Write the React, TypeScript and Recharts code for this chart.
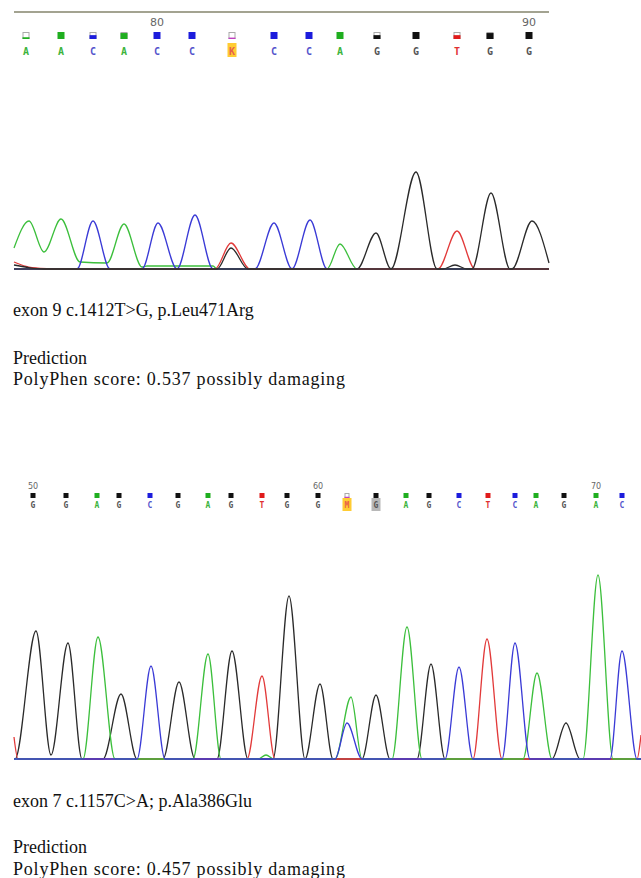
import React from 'react';
import { LineChart, Line, XAxis, YAxis, ReferenceLine } from 'recharts';

// ---- exon 9 read (positions 76-90) ----
const p1FirstPos = 76;
const p1Bases = ['A', 'A', 'C', 'A', 'C', 'C', 'K', 'C', 'C', 'A', 'G', 'G', 'T', 'G', 'G'];
const p1BaseScans = [12, 47, 79, 110, 143, 178, 218, 260, 295, 326, 363, 402, 443, 476, 515];
const p1Quality = [0.25, 1, 0.55, 0.85, 1, 1, 0.2, 1, 1, 1, 0.55, 1, 0.55, 0.85, 1];

// [scan, signal]
const p1A = [[0, 210], [15, 480], [30, 170], [47, 500], [66, 70], [93, 60], [110, 450], [128, 20], [133, 30], [199, 30], [203, 0], [313, 0], [326, 250], [343, 0], [535, 0]];
const p1C = [[0, 0], [63, 0], [79, 480], [96, 0], [128, 0], [144, 460], [163, 0], [181, 540], [199, 0], [241, 0], [260, 460], [278, 0], [296, 490], [313, 0], [535, 0]];
const p1G = [[0, 40], [14, 15], [30, 0], [203, 0], [217, 210], [234, 0], [343, 0], [362, 360], [377, 0], [402, 970], [423, 0], [429, 0], [441, 40], [453, 0], [458, 0], [477, 760], [496, 0], [498, 0], [518, 480], [535, 60]];
const p1T = [[0, 70], [12, 25], [26, 5], [40, 0], [201, 0], [217, 260], [236, 0], [424, 0], [443, 380], [461, 0], [535, 0]];

// ---- exon 7 read (positions 50-71) ----
const p2FirstPos = 50;
const p2Bases = ['G', 'G', 'A', 'G', 'C', 'G', 'A', 'G', 'T', 'G', 'G', 'M', 'G', 'A', 'G', 'C', 'T', 'C', 'A', 'G', 'A', 'C'];
const p2BaseScans = [19, 52, 83, 105, 136, 164, 194, 217, 248, 273, 304, 333, 362, 392, 415, 445, 474, 501, 522, 550, 582, 608];
const p2Quality = [1, 1, 1, 1, 1, 1, 1, 1, 1, 1, 1, 0.25, 1, 1, 1, 1, 1, 1, 1, 1, 1, 1];

const p2A = [[0, 0], [69, 0], [84, 1220], [101, 0], [179, 0], [194, 1050], [207, 0], [244, 0], [252, 40], [260, 0], [321, 0], [337, 620], [348, 0], [378, 0], [393, 1320], [408, 0], [509, 0], [523, 860], [538, 0], [569, 0], [584, 1840], [599, 0], [627, 0]];
const p2C = [[0, 0], [123, 0], [137, 930], [151, 0], [321, 0], [333, 360], [348, 0], [431, 0], [445, 920], [459, 0], [488, 0], [501, 1160], [516, 0], [596, 0], [608, 1080], [623, 0], [627, 0]];
const p2G = [[0, 0], [1, 0], [22, 1280], [37, 40], [54, 1160], [68, 0], [89, 0], [107, 650], [123, 0], [149, 0], [165, 770], [181, 0], [203, 0], [218, 1080], [234, 0], [259, 0], [275, 1630], [291, 0], [306, 750], [319, 0], [348, 0], [362, 640], [376, 0], [403, 0], [417, 950], [431, 0], [538, 0], [552, 360], [566, 0], [627, 0]];
const p2T = [[0, 220], [4, 0], [233, 0], [248, 830], [261, 0], [459, 0], [473, 1200], [488, 0], [623, 0], [627, 240]];

const SQUARE_COLORS: Record<string, string> = { A: '#1fae1f', C: '#1c1cdc', G: '#111111', T: '#e01b1b' };
const LETTER_COLORS: Record<string, string> = { A: '#3cb43c', C: '#5555cc', G: '#555555', T: '#e03030' };
const TRACE_COLORS = { A: '#3cbf3c', C: '#3a3ad6', G: '#2a2a2a', T: '#e23a3a' };

const toPoints = (arr: number[][]) => arr.map(([s, v]) => ({ s, v }));

const BaseTick = (props: any) => {
    const { x, y, index, bases, quality, firstPos, look } = props;
    const b = bases[index];
    const ambiguous = !SQUARE_COLORS[b];
    const sq = ambiguous ? '#c040c0' : SQUARE_COLORS[b];
    const q = quality[index];
    const sx = x - look.sq / 2;
    const sy = y + look.sqY;
    const pos = firstPos + index;
    return (
        <g>
            {pos % 10 === 0 && (
                <text x={x} y={y + look.numY} textAnchor="middle" fontSize={look.numSize} fill="#666" fontFamily="DejaVu Sans">{pos}</text>
            )}
            {q < 1 && <rect x={sx + 0.5} y={sy + 0.5} width={look.sq - 1} height={look.sq - 1} fill="#fff" stroke="#aaa" strokeWidth={1} />}
            <rect x={sx} y={sy + look.sq * (1 - q)} width={look.sq} height={look.sq * q} fill={sq} />
            {ambiguous && <rect x={x - look.boxW / 2} y={y + look.boxY} width={look.boxW} height={look.boxH} fill="#ffcc33" />}
            {b === 'G' && index > 0 && bases[index - 1] === 'M' && (
                <rect x={x - look.boxW / 2} y={y + look.boxY} width={look.boxW} height={look.boxH} fill="#b8b8b8" />
            )}
            <text x={x} y={y + look.letY} textAnchor="middle" fontSize={look.letSize} fontWeight="bold" fontFamily="DejaVu Sans Mono"
                fill={ambiguous ? '#e8604a' : LETTER_COLORS[b]}>{b}</text>
        </g>
    );
};

const TracePanel = ({ top, height, marginTop, axisHeight, marginRight, maxScan, maxSignal, bases, scans, quality, firstPos, traces, look, baseline }: any) => (
    <div style={{ position: 'absolute', left: 0, top }}>
        <LineChart width={641} height={height} margin={{ top: marginTop, right: marginRight, bottom: 3, left: 14 }}>
            <XAxis
                type="number"
                dataKey="s"
                orientation="top"
                domain={[0, maxScan]}
                ticks={scans}
                interval={0}
                height={axisHeight}
                axisLine={false}
                tickLine={false}
                tickSize={0}
                tickMargin={0}
                tick={(p: any) => <BaseTick {...p} bases={bases} quality={quality} firstPos={firstPos} look={look} />}
            />
            <YAxis type="number" domain={[0, maxSignal]} hide />
            {traces.map((t: any) => (
                <Line key={t.name} data={toPoints(t.data)} dataKey="v" type="monotone" stroke={t.color} strokeWidth={1.3}
                    dot={false} activeDot={false} isAnimationActive={false} />
            ))}
            {baseline && <ReferenceLine y={0} stroke="#333" strokeWidth={1.4} />}
        </LineChart>
    </div>
);

const textStyle: React.CSSProperties = {
    position: 'absolute', left: 13, fontFamily: '"Liberation Serif", serif', fontSize: 18, lineHeight: '18px', color: '#111', whiteSpace: 'nowrap'
};
const scoreStyle: React.CSSProperties = { ...textStyle, letterSpacing: '0.8px' };

export default function App() {
    const look1 = { sq: 7, sqY: -26, numY: -32, numSize: 11, letY: -3, letSize: 10, boxW: 9, boxY: -15, boxH: 14 };
    const look2 = { sq: 5, sqY: -19, numY: -23, numSize: 8, letY: -4, letSize: 8, boxW: 9, boxY: -14, boxH: 13 };
    return (
        <div style={{ position: 'relative', width: 641, height: 878, background: '#fff', overflow: 'hidden' }}>
            <style>{'body{margin:0}'}</style>
            <div style={{ position: 'absolute', left: 14, top: 11, width: 535, height: 2, background: '#a3a391' }} />
            <TracePanel
                top={0} height={272} marginTop={14} axisHeight={44} marginRight={92} maxScan={535} maxSignal={2110}
                bases={p1Bases} scans={p1BaseScans} quality={p1Quality} firstPos={p1FirstPos} look={look1} baseline
                traces={[
                    { name: 'A', data: p1A, color: TRACE_COLORS.A },
                    { name: 'C', data: p1C, color: TRACE_COLORS.C },
                    { name: 'T', data: p1T, color: TRACE_COLORS.T },
                    { name: 'G', data: p1G, color: TRACE_COLORS.G },
                ]}
            />
            <div style={{ ...textStyle, top: 301 }}>exon 9 c.1412T&gt;G, p.Leu471Arg</div>
            <div style={{ ...textStyle, top: 349 }}>Prediction</div>
            <div style={{ ...scoreStyle, top: 370 }}>PolyPhen score: 0.537 possibly damaging</div>

            <TracePanel
                top={470} height={292} marginTop={0} axisHeight={42} marginRight={0} maxScan={627} maxSignal={2470}
                bases={p2Bases} scans={p2BaseScans} quality={p2Quality} firstPos={p2FirstPos} look={look2}
                traces={[
                    { name: 'G', data: p2G, color: TRACE_COLORS.G },
                    { name: 'T', data: p2T, color: TRACE_COLORS.T },
                    { name: 'A', data: p2A, color: TRACE_COLORS.A },
                    { name: 'C', data: p2C, color: TRACE_COLORS.C },
                ]}
            />
            <div style={{ ...textStyle, top: 792 }}>exon 7 c.1157C&gt;A; p.Ala386Glu</div>
            <div style={{ ...textStyle, top: 838 }}>Prediction</div>
            <div style={{ ...scoreStyle, top: 860 }}>PolyPhen score: 0.457 possibly damaging</div>
        </div>
    );
}
